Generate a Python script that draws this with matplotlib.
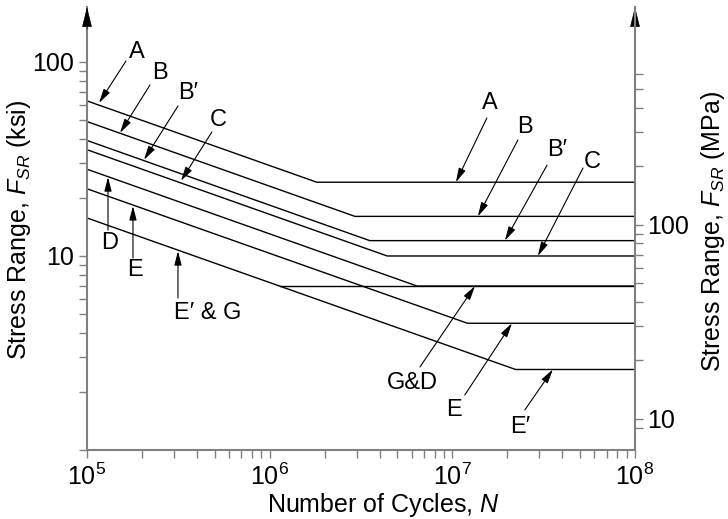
import numpy as np
import matplotlib
matplotlib.use("Agg")
import matplotlib.pyplot as plt
from matplotlib.ticker import FixedLocator, FixedFormatter, NullFormatter

plt.rcParams['font.family'] = ['Liberation Sans', 'DejaVu Sans']
plt.rcParams['mathtext.fontset'] = 'custom'
plt.rcParams['mathtext.rm'] = 'Liberation Sans'
plt.rcParams['mathtext.it'] = 'Liberation Sans:italic'

# Stress range curves (ksi)
categories = ["A", "B", "B'", "C", "D", "E", "E'"]
fsr_start = [63.0, 49.3, 39.4, 35.3, 28.0, 22.2, 15.7]          # F_SR at N = 1e5
knee_cycles = [1.81e6, 2.93e6, 3.53e6, 4.4e6, 6.41e6, 1.21e7, 2.22e7]
threshold = [24.0, 16.0, 12.0, 10.0, 7.0, 4.5, 2.6]              # constant amplitude limit
# Category G plateau (shares the 7 ksi limit with D, starts on the E' line)
g_start_cycles = 1.14e6
g_threshold = 7.0

n_min, n_max = 1e5, 1e8
ksi_to_mpa = 6.895

fig = plt.figure(figsize=(7.28, 5.19), dpi=100)
ax = fig.add_axes([87 / 728, 69 / 519, 548 / 728, 443 / 519])
ax.set_xscale('log')
ax.set_yscale('log')
ax.set_xlim(n_min, n_max)
ax.set_ylim(1, 192)

for s, nk, t in zip(fsr_start, knee_cycles, threshold):
    ax.plot([n_min, nk, n_max], [s, t, t], color='black', lw=1.0, solid_joinstyle='miter')
ax.plot([g_start_cycles, n_max], [g_threshold, g_threshold], color='black', lw=1.0)

axis_col = '#808080'
for side in ['top', 'right']:
    ax.spines[side].set_visible(False)
for side in ['left', 'bottom']:
    ax.spines[side].set_color(axis_col)
    ax.spines[side].set_linewidth(1.5)

# x ticks
ax.xaxis.set_major_locator(FixedLocator([1e5, 1e6, 1e7, 1e8]))
ax.xaxis.set_major_formatter(FixedFormatter([r'$10^{5}$', r'$10^{6}$', r'$10^{7}$', r'$10^{8}$']))
xminor = [m * 10.0 ** k for k in range(5, 8) for m in range(2, 10)]
ax.xaxis.set_minor_locator(FixedLocator(xminor))
ax.xaxis.set_minor_formatter(NullFormatter())

# left y ticks (ksi)
ax.yaxis.set_major_locator(FixedLocator([1, 10, 100]))
ax.yaxis.set_major_formatter(FixedFormatter(['', '10', '100']))
yminor = [m * 10.0 ** k for k in range(0, 2) for m in range(2, 10)]
ax.yaxis.set_minor_locator(FixedLocator(yminor))
ax.yaxis.set_minor_formatter(NullFormatter())

ax.tick_params(which='both', direction='out', length=6, width=1, color=axis_col,
               labelsize=18, pad=3)
ax.tick_params(axis='x', which='both', pad=4)

# right y axis (MPa)
ax2 = ax.twinx()
ax2.set_yscale('log')
ax2.set_ylim(1 * ksi_to_mpa, 192 * ksi_to_mpa)
for side in ['top', 'left', 'bottom']:
    ax2.spines[side].set_visible(False)
ax2.spines['right'].set_color(axis_col)
ax2.spines['right'].set_linewidth(1.5)
ax2.yaxis.set_major_locator(FixedLocator([10, 100]))
ax2.yaxis.set_major_formatter(FixedFormatter(['10', '100']))
mpa_minor = [9] + [m * 10 for m in range(2, 10)] + [m * 100 for m in range(2, 7)]
ax2.yaxis.set_minor_locator(FixedLocator(mpa_minor))
ax2.yaxis.set_minor_formatter(NullFormatter())
ax2.tick_params(which='both', direction='out', length=6, width=1, color=axis_col,
                labelsize=18, pad=3)

# arrow heads on top of vertical axes
for xf in [0, 1]:
    ax.annotate('', xy=(xf, 1.0), xycoords='axes fraction', xytext=(xf, 0.95),
                arrowprops=dict(arrowstyle='-|>,head_length=0.65,head_width=0.16',
                                color='black', lw=0.5, shrinkA=0, shrinkB=0,
                                mutation_scale=20),
                annotation_clip=False)

# category labels with pointer arrows: (text, label pos, tail, tip)
labels = [
    ("A", (1.878e5, 112.6), (1.635e5, 101.2), (1.163e5, 61.5)),
    ("B", (2.508e5, 87.7), (2.212e5, 76.1), (1.516e5, 43.1)),
    ("B\u2032", (3.571e5, 69.2), (3.148e5, 59.3), (2.051e5, 31.3)),
    ("C", (5.21e5, 50.2), (4.83e5, 43.6), (3.27e5, 24.4)),
    ("D", (1.336e5, 11.67), (1.303e5, 13.6), (1.303e5, 25.5)),
    ("E", (1.83e5, 8.47), (1.785e5, 9.76), (1.785e5, 18.1)),
    ("E\u2032 & G", (4.59e5, 5.08), (3.148e5, 6.07), (3.148e5, 10.6)),
    ("A", (1.60e7, 61.5), (1.545e7, 51.4), (1.046e7, 24.0)),
    ("B", (2.495e7, 46.2), (2.285e7, 39.6), (1.38e7, 16.0)),
    ("B\u2032", (3.74e7, 35.2), (3.30e7, 29.4), (1.94e7, 12.0)),
    ("C", (5.81e7, 30.5), (5.19e7, 28.4), (2.94e7, 10.0)),
    ("G&D", (6.08e6, 2.21), (6.65e6, 2.68), (1.33e7, 7.0)),
    ("E", (1.02e7, 1.61), (1.17e7, 1.92), (2.12e7, 4.5)),
    ("E\u2032", (2.35e7, 1.31), (2.495e7, 1.61), (3.55e7, 2.6)),
]
for txt, pos, tail, tip in labels:
    ax.text(pos[0], pos[1], txt, fontsize=17, ha='center', va='center')
    ax.annotate('', xy=tip, xytext=tail,
                arrowprops=dict(arrowstyle='-|>,head_length=0.85,head_width=0.22',
                                color='black', lw=0.8, shrinkA=0, shrinkB=0))

fig.text(19 / 728, 1 - 230 / 519, r'Stress Range, $F_{SR}$ (ksi)', rotation=90,
         ha='center', va='center', fontsize=18)
fig.text(713 / 728, 1 - 231 / 519, r'Stress Range, $F_{SR}$ (MPa)', rotation=90,
         ha='center', va='center', fontsize=18)
fig.text(383 / 728, 1 - 505 / 519, r'Number of Cycles, $N$', ha='center', va='center',
         fontsize=18)

fig.savefig('out.png', dpi=100)
